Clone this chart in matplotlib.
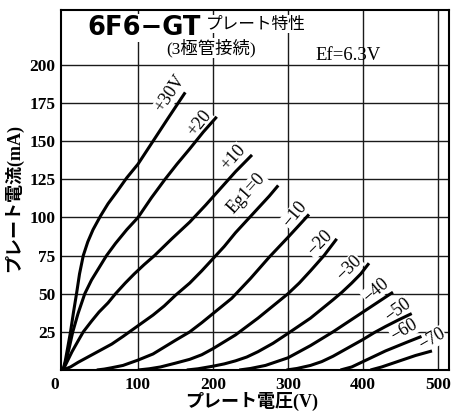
import matplotlib
matplotlib.use('Agg')
import matplotlib.pyplot as plt
import matplotlib.transforms as mtransforms

# ---- data: plate voltage (V) vs plate current (mA) for each grid voltage ----
vp_p30 = [0, 3, 6, 10, 14, 18, 22, 27, 33, 40, 50, 60, 72, 85, 100, 120, 140, 163]
ip_p30 = [0, 6, 14, 25, 38, 50, 63, 75, 84, 92, 101, 109, 117, 126, 135, 150, 165, 182]
vp_p20 = [0, 4, 8, 13, 20, 29, 38, 48, 58, 70, 85, 100, 118, 136, 152, 169, 187, 205]
ip_p20 = [0, 6, 14, 25, 37, 50, 59, 67, 75, 83, 92, 100, 113, 125, 135, 145, 156, 166]
vp_p10 = [0, 5, 12, 20, 27, 38, 48, 60, 70, 83, 95, 108, 122, 145, 169, 190, 210, 230, 252]
ip_p10 = [0, 5, 12, 19, 25, 32, 38, 44, 50, 57, 63, 69, 75, 86, 97, 108, 119, 130, 141]
vp_0 = [0, 10, 20, 35, 50, 65, 80, 100, 120, 135, 150, 169, 185, 200, 215, 230, 245, 260, 275, 287]
ip_0 = [0, 2, 5, 9, 13, 17, 22, 29, 36, 42, 49, 57, 65, 73, 81, 90, 98, 106, 114, 121]
vp_m10 = [45, 55, 65, 80, 100, 120, 135, 150, 169, 185, 200, 225, 250, 275, 300, 315, 328]
ip_m10 = [0, 0.6, 1.5, 3, 6.5, 10.5, 15, 19.5, 25, 31, 37, 47, 60, 74, 87, 95, 102]
vp_m20 = [100, 115, 130, 150, 169, 185, 200, 215, 230, 245, 260, 280, 300, 315, 330, 348, 365]
ip_m20 = [0, 0.8, 2, 4.5, 7, 10, 14, 18.5, 23, 28.5, 34, 42, 50, 57, 65, 75, 86]
vp_m30 = [165, 180, 200, 215, 230, 245, 260, 280, 300, 315, 330, 345, 360, 372, 385, 397, 408]
ip_m30 = [0, 0.8, 2.5, 4, 6, 8.5, 12, 17.5, 24, 29, 34, 40, 46, 51, 57, 63, 70]
vp_m40 = [235, 250, 270, 285, 300, 315, 330, 345, 360, 380, 400, 420, 440]
ip_m40 = [0, 1, 3, 5.5, 8, 12, 16, 20.5, 25, 31.5, 38, 44.5, 51]
vp_m50 = [298, 312, 330, 345, 360, 380, 400, 415, 430, 448, 465]
ip_m50 = [0, 1, 3, 5.5, 9, 14.5, 20, 24.5, 28.5, 33, 37]
vp_m60 = [370, 385, 400, 415, 430, 445, 460, 478]
ip_m60 = [0, 2, 5.5, 9, 12.5, 15.5, 18.5, 22]
vp_m70 = [410, 425, 440, 455, 470, 492]
ip_m70 = [0, 2, 4.5, 7, 9.5, 12.5]

curve_labels = ['+30V', '+20', '+10', 'Eg1=0', '−10', '−20', '−30',
                '−40', '−50', '−60', '−70']

x_ticks = [0, 100, 200, 300, 400, 500]
x_ticklabels = ['0', '100', '200', '300', '400', '500']
y_ticks = [25, 50, 75, 100, 125, 150, 175, 200]
y_ticklabels = ['25', '50', '75', '100', '125', '150', '175', '200']

title_main = '6F6−GT'
title_sub = 'プレート特性'
title_note = '(3極管接続)'
heater_note = 'Ef=6.3V'
x_label = 'プレート電圧(V)'
y_label = 'プレート電流(mA)'

# ---- layout ----
W, H = 454, 413
fig = plt.figure(figsize=(W / 100, H / 100), dpi=100)
ax = fig.add_axes([61 / W, 1 - 370 / H, (449 - 61) / W, (370 - 10) / H])
ax.set_xlim(-2.7, 514.7)
ax.set_ylim(0, 236)

serif_jp = ['Liberation Serif', 'Noto Sans CJK JP']

ax.set_xticks(x_ticks)
ax.set_xticklabels(x_ticklabels, family='Liberation Serif',
                   fontweight='bold', fontsize=12.5)
ax.set_yticks(y_ticks)
ax.set_yticklabels(y_ticklabels, family='Liberation Serif',
                   fontweight='bold', fontsize=12.5)
ax.tick_params(axis='x', length=0, pad=5)
ax.tick_params(axis='y', length=0, pad=4)
lab0 = ax.get_xticklabels()[0]
lab0.set_transform(lab0.get_transform() +
                   mtransforms.ScaledTranslation(-8 / 100, 0, fig.dpi_scale_trans))

# grid
for xv in x_ticks[1:]:
    ax.axvline(xv, color='#1a1a1a', lw=1.0, zorder=1)
for yv in y_ticks:
    ax.axhline(yv, color='#1a1a1a', lw=1.0, zorder=1)
for s in ax.spines.values():
    s.set_linewidth(1.5)
    s.set_color('black')

# curves
curves = [(vp_p30, ip_p30), (vp_p20, ip_p20), (vp_p10, ip_p10), (vp_0, ip_0),
          (vp_m10, ip_m10), (vp_m20, ip_m20), (vp_m30, ip_m30),
          (vp_m40, ip_m40), (vp_m50, ip_m50), (vp_m60, ip_m60),
          (vp_m70, ip_m70)]
for vp, ip in curves:
    ax.plot(vp, ip, color='black', lw=2.2, solid_capstyle='butt',
            solid_joinstyle='round', zorder=3)

# curve labels (centre in data units, rotation in screen degrees)
label_pos = [(143, 181, 56), (182, 162, 51), (227, 139, 48), (245, 116, 48),
             (309, 102, 50), (342, 83, 45), (381, 67, 44), (417, 52, 40),
             (447, 39, 36), (455, 26, 30), (492, 20, 30)]
for txt, (x, y, r) in zip(curve_labels, label_pos):
    ax.text(x, y, txt, rotation=r, rotation_mode='anchor', ha='center',
            va='center', family='Liberation Serif', fontsize=13, zorder=2,
            bbox=dict(facecolor='white', edgecolor='none', pad=0.2))

def px(xp, yp):
    return ((xp - 61) / (449 - 61), (370 - yp) / (370 - 10))

ax.text(*px(87, 28), title_main, transform=ax.transAxes, ha='left',
        va='center', family='DejaVu Sans', fontweight='bold', fontsize=18.5,
        zorder=5, bbox=dict(facecolor='white', edgecolor='none', pad=1))
ax.text(*px(206, 24), title_sub, transform=ax.transAxes, ha='left',
        va='center', family=['Noto Sans CJK JP'], fontsize=12, zorder=5,
        bbox=dict(facecolor='white', edgecolor='none', pad=0.5))
ax.text(*px(211, 48), title_note, transform=ax.transAxes, ha='center',
        va='center', family=serif_jp, fontsize=12.5, zorder=5,
        bbox=dict(facecolor='white', edgecolor='none', pad=0.5))
ax.text(*px(348, 56), heater_note, transform=ax.transAxes, ha='center',
        va='center', family='Liberation Serif', fontsize=13.5, zorder=5)

fig.text(252 / W, 1 - 401 / H, x_label, ha='center', va='center',
         family=serif_jp, fontsize=13, fontweight='bold')
fig.text(14 / W, 1 - 198 / H, y_label, ha='center', va='center',
         rotation=90, family=serif_jp, fontsize=13, fontweight='bold')

fig.savefig('out.png', dpi=100)
